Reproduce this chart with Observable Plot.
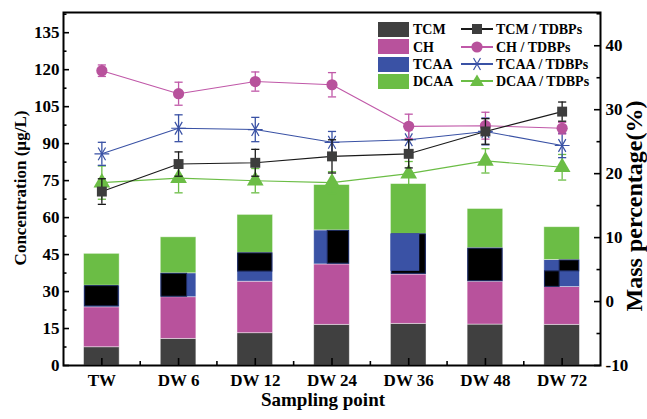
<!DOCTYPE html>
<html><head><meta charset="utf-8">
<script src="https://cdn.jsdelivr.net/npm/d3@7"></script>
<script src="https://cdn.jsdelivr.net/npm/@observablehq/plot@0.6"></script>
<style>
body{margin:0;background:#fff;}
#wrap{position:relative;width:647px;height:419px;font-family:"Liberation Serif","Times New Roman",serif;font-weight:bold;color:#000;}
#wrap svg{display:block;}
.lg{position:absolute;font-size:14px;line-height:14px;white-space:nowrap;}
.sw{position:absolute;width:31px;height:15px;}
</style></head><body><div id="wrap"></div>
<script>
// ---- data ----
const categories = ["TW", "DW 6", "DW 12", "DW 24", "DW 36", "DW 48", "DW 72"];
// stacked concentrations (µg/L)
const tcm  = [7.4, 10.8, 13.1, 16.5, 16.9, 16.6, 16.5];
const ch   = [16.2, 16.9, 20.9, 24.5, 20.0, 17.4, 15.3];
const tcaa = [8.8, 9.7, 11.7, 13.8, 16.5, 13.6, 11.0];
const dcaa = [12.9, 14.6, 15.4, 18.4, 20.2, 15.9, 13.3];
// mass percentage (%) and error
const tcmPct  = [17.2, 21.5, 21.7, 22.7, 23.1, 26.6, 29.7];
const tcmErr  = [2.0, 1.9, 2.1, 2.6, 2.2, 2.0, 1.5];
const chPct   = [36.1, 32.5, 34.4, 33.9, 27.4, 27.5, 27.1];
const chErr   = [0.9, 1.8, 1.5, 1.9, 1.9, 2.1, 0.9];
const tcaaPct = [23.1, 27.1, 26.9, 24.9, 25.3, 26.6, 24.4];
const tcaaErr = [1.8, 2.1, 1.9, 1.7, 1.9, 2.1, 1.9];
const dcaaPct = [18.6, 19.3, 18.9, 18.6, 20.0, 22.0, 21.0];
const dcaaErr = [2.6, 2.3, 1.9, 1.7, 1.9, 1.9, 2.0];
// dark overlay blocks seen in the bars (category index, band fraction from/to, value lo/hi)
const blackBoxes = [
  {i: 0, f0: 0.03, f1: 0.97, lo: 24.0, hi: 32.2},
  {i: 1, f0: 0.02, f1: 0.74, lo: 27.9, hi: 37.2},
  {i: 2, f0: 0.02, f1: 0.98, lo: 38.1, hi: 45.5},
  {i: 3, f0: 0.38, f1: 0.98, lo: 41.3, hi: 54.6},
  {i: 4, f0: 0.03, f1: 0.98, lo: 37.2, hi: 53.2},
  {i: 5, f0: 0.02, f1: 0.98, lo: 34.2, hi: 47.4},
  {i: 6, f0: 0.43, f1: 0.98, lo: 38.2, hi: 42.6},
  {i: 6, f0: 0.02, f1: 0.43, lo: 31.9, hi: 38.2}
];
const blueBoxes = [
  {i: 4, f0: 0.0, f1: 0.81, lo: 38.2, hi: 53.4}
];
const leftTicks = [0, 15, 30, 45, 60, 75, 90, 105, 120, 135];
const rightTicks = [-10, 0, 10, 20, 30, 40];
const legendBars = ["TCM", "CH", "TCAA", "DCAA"];
const legendLines = ["TCM / TDBPs", "CH / TDBPs", "TCAA / TDBPs", "DCAA / TDBPs"];

// ---- styling ----
const colBar = {TCM: "#404040", CH: "#b8529c", TCAA: "#3a52a5", DCAA: "#6bbd45"};
const colLine = {TCM: "#1a1a1a", CH: "#c058a8", TCAA: "#3a52a5", DCAA: "#6bbd45"};
const W = 647, H = 419, mL = 63, mR = 47, mT = 12, mB = 54;
const fw = W - mL - mR, fh = H - mT - mB;
const L1 = 143.2, R0 = -10, R1 = 45.2;
const toL = v => (v - R0) / (R1 - R0) * L1;
const fromL = v => v / L1 * (R1 - R0) + R0;
const hw = 0.232;
const idx = d3.range(categories.length);

const segs = [["TCM", tcm], ["CH", ch], ["TCAA", tcaa], ["DCAA", dcaa]];
const base = idx.map(() => 0);
const barMarks = segs.map(([name, vals]) => {
  const b = base.slice();
  idx.forEach(i => base[i] += vals[i]);
  return Plot.rect(idx, {
    x1: i => i - hw, x2: i => i + hw, y1: i => b[i], y2: i => b[i] + vals[i],
    fill: colBar[name], stroke: "#ffffff", strokeOpacity: 0.55, strokeWidth: 0.8
  });
});

const capSymbol = {draw(ctx, size) { const w = Math.sqrt(size) / 2; ctx.moveTo(-w, 0); ctx.lineTo(w, 0); }};

function series(name, pct, err, symbol, r, extra = {}) {
  const c = colLine[name];
  const mc = name === "TCM" ? "#3d3d3d" : (name === "CH" ? "#b8529c" : c);
  return [
    Plot.line(idx, {x: i => i, y: i => toL(pct[i]), stroke: c, strokeWidth: 1.1}),
    Plot.ruleX(idx, {x: i => i, y1: i => toL(pct[i] - err[i]), y2: i => toL(pct[i] + err[i]), stroke: c, strokeWidth: 1.3}),
    Plot.dot(idx, {x: i => i, y: i => toL(pct[i] - err[i]), symbol: capSymbol, r: 4.6, stroke: c, strokeWidth: 1.3}),
    Plot.dot(idx, {x: i => i, y: i => toL(pct[i] + err[i]), symbol: capSymbol, r: 4.6, stroke: c, strokeWidth: 1.3}),
    Plot.dot(idx, {x: i => i, y: i => toL(pct[i]), symbol, r, ...(symbol === "asterisk" ? {stroke: mc, strokeWidth: 1.2, fill: "none"} : {fill: mc, stroke: "none"}), ...extra})
  ];
}

const chart = Plot.plot({
  width: W, height: H,
  marginLeft: mL, marginRight: mR, marginTop: mT, marginBottom: mB,
  style: {fontFamily: "'Liberation Serif', 'Times New Roman', serif", fontWeight: "bold", fontSize: "16px", color: "#000", background: "#fff"},
  x: {domain: [-0.5, 6.5]},
  y: {domain: [0, L1]},
  marks: [
    ...barMarks,
    Plot.rect(blackBoxes, {x1: d => d.i - hw + d.f0 * 2 * hw, x2: d => d.i - hw + d.f1 * 2 * hw, y1: d => d.lo, y2: d => d.hi, fill: "#000", stroke: "#1d2a5e", strokeWidth: 1}),
    Plot.rect(blueBoxes, {x1: d => d.i - hw + d.f0 * 2 * hw, x2: d => d.i - hw + d.f1 * 2 * hw, y1: d => d.lo, y2: d => d.hi, fill: colBar.TCAA}),
    ...series("DCAA", dcaaPct, dcaaErr, "triangle", 6.2),
    ...series("TCAA", tcaaPct, tcaaErr, "asterisk", 7, {rotate: 90}),
    ...series("CH", chPct, chErr, "circle", 5.6),
    ...series("TCM", tcmPct, tcmErr, "square", 5.6),
    // inward ticks
    Plot.tickY(leftTicks, {y: d => d, insetRight: fw - 6, strokeWidth: 1.6}),
    Plot.tickY(leftTicks.map(d => d + 7.5).filter(d => d < L1), {y: d => d, insetRight: fw - 3.5, strokeWidth: 1.6}),
    Plot.tickY(rightTicks.map(toL), {y: d => d, insetLeft: fw - 6, strokeWidth: 1.6}),
    Plot.tickY(rightTicks.map(d => toL(d + 5)).filter(d => d < L1), {y: d => d, insetLeft: fw - 3.5, strokeWidth: 1.6}),
    Plot.tickX(idx, {x: i => i, insetTop: fh - 7, strokeWidth: 1.6}),
    Plot.tickX(idx.slice(1).map(i => i - 0.5), {x: d => d, insetTop: fh - 4, strokeWidth: 1.6}),
    Plot.axisY({anchor: "left", ticks: leftTicks, tickSize: 0, tickPadding: 4, label: null, fontSize: 17}),
    Plot.axisY({anchor: "right", ticks: rightTicks.map(toL), tickFormat: d => String(Math.round(fromL(d))), tickSize: 0, tickPadding: 5, label: null, fontSize: 17}),
    Plot.axisX({ticks: idx, tickFormat: i => categories[i], tickSize: 0, tickPadding: 8, label: null, fontSize: 17}),
    Plot.frame({stroke: "#000", strokeWidth: 2}),
    Plot.text(["Concentration (µg/L)"], {text: d => d, frameAnchor: "left", textAnchor: "middle", lineAnchor: "middle", dx: -43, dy: -1, rotate: -90, fontSize: 17, fontWeight: "bold"}),
    Plot.text(["Mass percentage(%)"], {text: d => d, frameAnchor: "right", textAnchor: "middle", lineAnchor: "bottom", dx: 41, dy: 17, rotate: -90, fontSize: 24, fontWeight: "bold"}),
    Plot.text(["Sampling point"], {text: d => d, frameAnchor: "bottom", textAnchor: "middle", lineAnchor: "middle", dx: -9, dy: 34, fontSize: 19, fontWeight: "bold"})
  ]
});
const wrap = document.getElementById("wrap");
wrap.appendChild(chart);

// ---- legend (inside the plot frame, top-right) ----
const rowY = [29.2, 46.6, 64.1, 81.3];
const markerSvg = {
  TCM: c => `<rect x="11" y="3" width="10" height="10" fill="#3d3d3d"/>`,
  CH: c => `<circle cx="16" cy="8" r="5.6" fill="${c}"/>`,
  TCAA: c => `<g stroke="${c}" stroke-width="1.2"><line x1="9" y1="8" x2="23" y2="8"/><line x1="12.5" y1="2" x2="19.5" y2="14"/><line x1="12.5" y1="14" x2="19.5" y2="2"/></g>`,
  DCAA: c => `<path d="M16,1.5 L23,13 L9,13 Z" fill="${c}"/>`
};
legendBars.forEach((name, k) => {
  const sw = document.createElement("div");
  sw.className = "sw";
  sw.style.left = "378px"; sw.style.top = (rowY[k] - 7.5) + "px";
  sw.style.background = colBar[name];
  wrap.appendChild(sw);
  const t = document.createElement("div");
  t.className = "lg"; t.textContent = name;
  t.style.left = "413px"; t.style.top = (rowY[k] - 6) + "px";
  wrap.appendChild(t);
});
legendLines.forEach((label, k) => {
  const name = legendBars[k];
  const c = colLine[name];
  const s = document.createElementNS("http://www.w3.org/2000/svg", "svg");
  s.setAttribute("width", 32); s.setAttribute("height", 16);
  s.style.position = "absolute"; s.style.left = "461px"; s.style.top = (rowY[k] - 8) + "px";
  s.innerHTML = `<line x1="0" y1="8" x2="32" y2="8" stroke="${c}" stroke-width="2"/>` + markerSvg[name](name === "CH" ? colBar.CH : c);
  wrap.appendChild(s);
  const t = document.createElement("div");
  t.className = "lg"; t.textContent = label;
  t.style.left = "496px"; t.style.top = (rowY[k] - 6) + "px";
  wrap.appendChild(t);
});
</script></body></html>
